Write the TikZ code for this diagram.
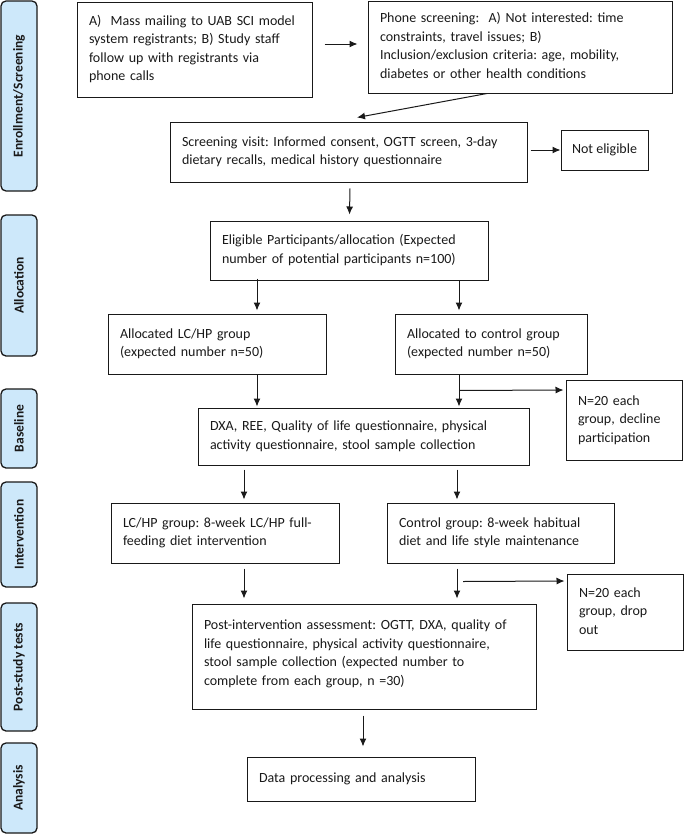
\documentclass[tikz,border=0pt]{standalone}
\usepackage{fontspec}
\setmainfont{Carlito}
\usetikzlibrary{calc,arrows.meta}
\definecolor{lanefill}{RGB}{205,232,250}
\definecolor{ink}{RGB}{25,25,25}
\newcommand{\boxtext}[1]{\begin{tabular}{@{}l@{}}#1\end{tabular}}
\frenchspacing
\tikzset{
  box/.style={draw=ink, line width=1pt, align=left, inner xsep=12pt, inner ysep=3pt,
    font=\fontsize{14}{18.5}\selectfont, text=ink},
  lane/.style={draw=ink, line width=1.3pt, rounded corners=5pt, fill=lanefill, rotate=90,
    minimum height=36pt, inner sep=0pt, font=\fontsize{13.5}{16}\selectfont\bfseries, text=ink},
  arr/.style={draw=ink, line width=1pt, -{Latex[length=8pt,width=7pt]}}
}
\begin{document}
\begin{tikzpicture}[x=1pt,y=-1pt]
\useasboundingbox (0,0) rectangle (685,835);
% lanes
\node[lane, minimum width=190pt] (l1) at (19,96) {Enrollment/Screening};
\node[lane, minimum width=141pt] (l2) at (19,285.5) {Allocation};
\node[lane, minimum width=79pt] (l3) at (19,428.5) {Baseline};
\node[lane, minimum width=105pt] (l4) at (19,534.5) {Intervention};
\node[lane, minimum width=128pt] (l5) at (19,667) {Post-study tests};
\node[lane, minimum width=90pt] (l6) at (19,788) {Analysis};
% boxes
\node[box, text width=211pt, minimum height=95pt] (mail) at (194.5,49.5)
 {\boxtext{A)\ \ Mass mailing to UAB SCI model\\system registrants; B) Study staff\\follow up with registrants via\\phone calls}};
\node[box, text width=280pt, minimum height=92pt] (phone) at (520,47)
 {\boxtext{Phone screening:\ \ A) Not interested: time\\constraints, travel issues; B)\\Inclusion/exclusion criteria: age, mobility,\\diabetes or other health conditions}};
\node[box, text width=333pt, minimum height=60pt] (screen) at (348.5,152)
 {\boxtext{Screening visit: Informed consent, OGTT screen, 3-day\\dietary recalls, medical history questionnaire}};
\node[box, align=center, inner xsep=0pt, minimum width=87pt, minimum height=40pt] (noteli) at (604.5,150)
 {Not eligible};
\node[box, text width=254pt, minimum height=59pt] (elig) at (349,250.5)
 {\boxtext{Eligible Participants/allocation (Expected\\number of potential participants n=100)}};
\node[box, text width=194pt, minimum height=60pt] (lcal) at (217,344)
 {\boxtext{Allocated LC/HP group\\(expected number n=50)}};
\node[box, text width=168pt, minimum height=60pt] (calloc) at (491,344)
 {\boxtext{Allocated to control group\\(expected number n=50)}};
\node[box, text width=92pt, minimum height=80pt] (decline) at (624,420)
 {\boxtext{N=20 each\\group, decline\\participation}};
\node[box, text width=307pt, minimum height=57pt] (dxa) at (363.5,436.5)
 {\boxtext{DXA, REE, Quality of life questionnaire, physical\\activity questionnaire, stool sample collection}};
\node[box, text width=204pt, minimum height=60pt] (lcint) at (225,533)
 {\boxtext{LC/HP group: 8-week LC/HP full-\\feeding diet intervention}};
\node[box, text width=203pt, minimum height=60pt] (ctint) at (500.5,533)
 {\boxtext{Control group: 8-week habitual\\diet and life style maintenance}};
\node[box, text width=92pt, minimum height=76pt] (drop) at (625,612)
 {\boxtext{N=20 each\\group, drop\\out}};
\node[box, text width=320pt, minimum height=105pt] (post) at (364,656.5)
 {\boxtext{Post-intervention assessment: OGTT, DXA, quality of\\life questionnaire, physical activity questionnaire,\\stool sample collection (expected number to\\complete from each group, n =30)\\[5pt]}};
\node[box, text width=204pt, minimum height=44pt] (data) at (361,779)
 {\boxtext{Data processing and analysis}};
% connectors
\draw[arr] ($(mail.east)+(12,-5.5)$) -- ($(phone.west)+(-10,-3)$);
\draw[arr] ($(phone.south)+(-33,0)$) -- ($(screen.north)+(8.5,-4)$);
\draw[arr] ($(screen.east|-noteli.west)+(3,0)$) -- (noteli.west);
\draw[arr] ($(screen.south)+(1.5,6)$) -- ($(elig.north)+(0.5,-6)$);
\draw[arr] ($(elig.south)+(-92,-2)$) -- ($(lcal.north)+(40,-3)$);
\draw[arr] ($(elig.south)+(110,0)$) -- ($(calloc.north)+(-32,-3)$);
\draw[arr] ($(lcal.south)+(40,0)$) -- ($(dxa.north)+(-106.5,-1)$);
\draw[arr] ($(calloc.south)+(-32,0)$) -- ($(dxa.north)+(95.5,-1)$);
\draw[arr] ($(calloc.south)+(-32,16)$) -- ($(decline.west)+(-2,-30)$);
\draw[arr] ($(dxa.south)+(-119.5,4)$) -- ($(lcint.north)+(19,-3)$);
\draw[arr] ($(dxa.south)+(93.5,4)$) -- ($(ctint.north)+(-43.5,-3)$);
\draw[arr] ($(lcint.south)+(19,5)$) -- ($(post.north)+(-120,-5)$);
\draw[arr] ($(ctint.south)+(-43.5,5)$) -- ($(post.north)+(93,-5)$);
\draw[arr] ($(ctint.south)+(-37.5,18)$) -- ($(drop.west)+(-2,-31)$);
\draw[arr] ($(post.south)+(-1,6)$) -- ($(data.north)+(2,-10)$);
\end{tikzpicture}
\end{document}
